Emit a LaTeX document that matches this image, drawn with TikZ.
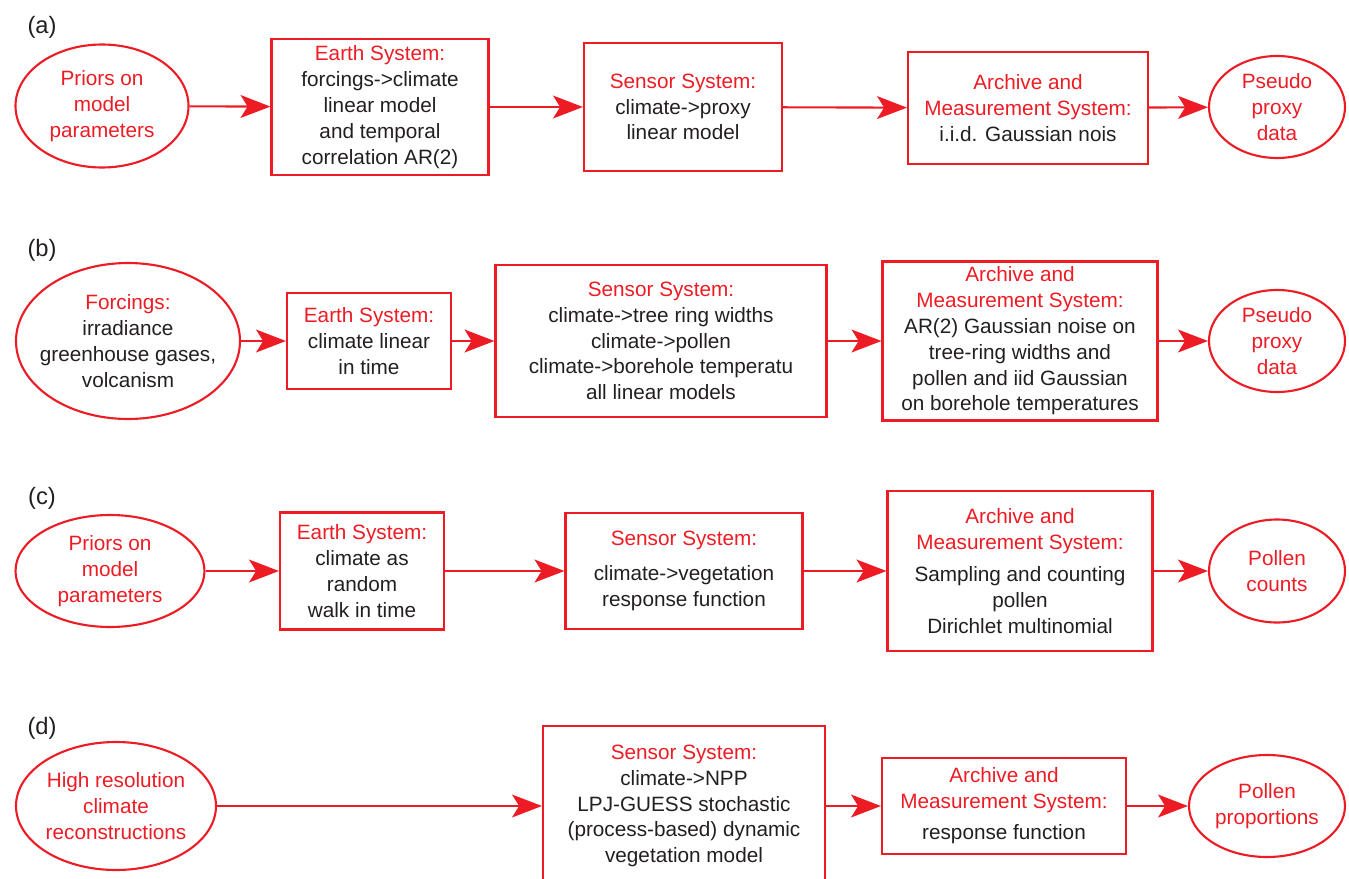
\documentclass[tikz,border=0pt]{standalone}
\usepackage{fontspec}
\setmainfont{Liberation Sans}
\usetikzlibrary{shapes.geometric,arrows.meta}
\definecolor{boxred}{RGB}{237,28,36}
\definecolor{txtgray}{RGB}{35,31,32}
\newcommand{\hd}[1]{\textcolor{boxred}{#1}}

\begin{document}
\begin{tikzpicture}[x=0.02cm,y=-0.02cm,
    box/.style 2 args={rectangle,draw=boxred,line width=1.2pt,inner sep=0pt,align=center,
      text=txtgray,minimum width=#1*0.02cm,minimum height=#2*0.02cm,
      font=\fontsize{11.8}{14.7}\selectfont},
    oval/.style 2 args={ellipse,draw=boxred,line width=1.2pt,inner sep=-15pt,align=center,
      text=boxred,minimum width=#1*0.02cm,minimum height=#2*0.02cm,
      font=\fontsize{11.8}{14.7}\selectfont},
    arr/.style={draw=boxred,line width=1.2pt,-{Stealth[length=17pt,width=13pt,inset=4pt]}},
    tag/.style={text=txtgray,font=\fontsize{13.5}{16}\selectfont}]
      \useasboundingbox (0,0) rectangle (1349,879);
      \clip (0,0) rectangle (1349,879);
      % (a)
      \node[tag] (ta) at (42,27) {(a)};
      \node[oval={173}{123}] (a1) at (102,106) {Priors on\\model\\parameters};
      \node[box={217}{136}] (a2) at (380,107) {\hd{Earth System:}\\forcings->climate\\linear model\\and temporal\\correlation AR(2)};
      \node[box={198}{128}] (a3) at (683,107) {\hd{Sensor System:}\\climate->proxy\\linear model};
      \node[box={240}{112}] (a4) at (1028,108) {\hd{Archive and}\\\hd{Measurement System:}\\i.i.d. Gaussian nois};
      \node[oval={136}{102}] (a5) at (1277,107) {Pseudo\\proxy\\data};
      \draw[arr] (a1) -- (a2);
      \draw[arr] (a2) -- (a3);
      \draw[arr] (a3) -- (a4);
      \draw[arr] (a4) -- (a5);
      % (b)
      \node[tag] (tb) at (42,250) {(b)};
      \node[oval={224}{156},text=txtgray] (b1) at (128,341) {\hd{Forcings:}\\irradiance\\greenhouse gases,\\volcanism};
      \node[box={164}{96}] (b2) at (369,341) {\hd{Earth System:}\\climate linear\\in time};
      \node[box={331}{152}] (b3) at (661,341) {\hd{Sensor System:}\\climate->tree ring widths\\climate->pollen\\climate->borehole temperatu\\all linear models};
      \node[box={275}{159}] (b4) at (1020,341) {\hd{Archive and}\\\hd{Measurement System:}\\AR(2) Gaussian noise on\\tree-ring widths and\\pollen and iid Gaussian\\on borehole temperatures};
      \node[oval={136}{102}] (b5) at (1277,341) {Pseudo\\proxy\\data};
      \draw[arr] (b1) -- (b2);
      \draw[arr] (b2) -- (b3);
      \draw[arr] (b3) -- (b4);
      \draw[arr] (b4) -- (b5);
      % (c)
      \node[tag] (tc) at (42,498) {(c)};
      \node[oval={189}{112}] (c1) at (110,571) {Priors on\\model\\parameters};
      \node[box={164}{117}] (c2) at (362,571) {\hd{Earth System:}\\climate as\\random\\walk in time};
      \node[box={237}{116}] (c3) at (684,571) {\hd{Sensor System:}\\[5pt]climate->vegetation\\response function};
      \node[box={265}{160}] (c4) at (1020,571) {\hd{Archive and}\\\hd{Measurement System:}\\[4pt]Sampling and counting\\pollen\\Dirichlet multinomial};
      \node[oval={136}{103}] (c5) at (1277,571) {Pollen\\counts};
      \draw[arr] (c1) -- (c2);
      \draw[arr] (c2) -- (c3);
      \draw[arr] (c3) -- (c4);
      \draw[arr] (c4) -- (c5);
      % (d)
      \node[tag] (td) at (42,728) {(d)};
      \node[oval={200}{128}] (d1) at (116,806) {High resolution\\climate\\reconstructions};
      \node[box={282}{160}] (d3) at (684,806) {\hd{Sensor System:}\\climate->NPP\\LPJ-GUESS stochastic\\(process-based) dynamic\\vegetation model};
      \node[box={244}{96}] (d4) at (1004,806) {\hd{Archive and}\\\hd{Measurement System:}\\[3pt]response function};
      \node[oval={156}{102}] (d5) at (1267,806) {Pollen\\proportions};
      \draw[arr] (d1) -- (d3);
      \draw[arr] (d3) -- (d4);
      \draw[arr] (d4) -- (d5);
\end{tikzpicture}
\end{document}
